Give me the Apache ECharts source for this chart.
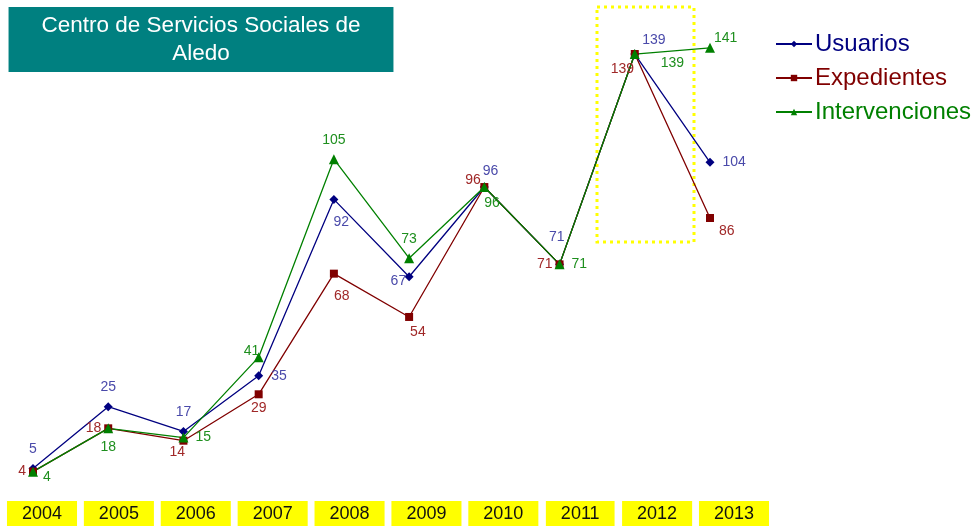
<!DOCTYPE html>
<html>
<head>
<meta charset="utf-8">
<script src="https://cdn.jsdelivr.net/npm/echarts@6/dist/echarts.min.js"></script>
<style>
  html, body { margin: 0; padding: 0; background: #fff; }
  #chart { width: 975px; height: 529px; }
</style>
</head>
<body>
<div id="chart"></div>
<script>
// datos
var years = ['2004', '2005', '2006', '2007', '2008', '2009', '2010', '2011', '2012', '2013'];
var usuarios = [5, 25, 17, 35, 92, 67, 96, 71, 139, 104];
var expedientes = [4, 18, 14, 29, 68, 54, 96, 71, 139, 86];
var intervenciones = [4, 18, 15, 41, 105, 73, 96, 71, 139, 141];

// posicion de cada etiqueta
var posUsuarios = ['top', 'top', 'top', 'right', [4, 20], [-14, 2], [3, -18], [-6, -30], [12, -16], 'right'];
var posExpedientes = ['left', 'left', [-10, 8], 'bottom', [4, 19], [5, 12], [-15, -10], 'left', [-20, 12], [13, 10]];
var posIntervenciones = [[15, 4], 'bottom', 'right', [-10, -8], 'top', 'top', [5, 14], 'right', [31, 7], [9, -12]];

function puntos(values, pos) {
    return values.map(function (v, i) {
        return {value: v, label: {position: pos[i]}};
    });
}

var chart = echarts.init(document.getElementById('chart'));
var font = 'Liberation Sans, Arial, sans-serif';

var option = {
    animation: false,
    title: {
        text: 'Centro de Servicios Sociales de\nAledo',
        left: 168,
        top: 7,
        textAlign: 'center',
        backgroundColor: '#008080',
        padding: [5, 33, 4, 33],
        textStyle: {
            color: '#fff',
            fontFamily: font,
            fontWeight: 'normal',
            fontSize: 22.5,
            lineHeight: 28
        }
    },
    legend: {
        orient: 'vertical',
        left: 770,
        top: 27,
        itemWidth: 36,
        itemHeight: 8,
        itemGap: 10,
        textStyle: {fontFamily: font, fontSize: 24, padding: [0, 0, 0, -2]},
        data: [
            {name: 'Usuarios', textStyle: {color: '#000080'}},
            {name: 'Expedientes', textStyle: {color: '#800000'}},
            {name: 'Intervenciones', textStyle: {color: '#008000'}}
        ]
    },
    grid: [
        {left: 33, right: 265, top: 20, bottom: 45},
        {left: 42, right: 241, top: 20, bottom: 45}
    ],
    xAxis: [
        {
            type: 'category',
            gridIndex: 0,
            data: years,
            boundaryGap: false,
            axisLine: {show: false},
            axisTick: {show: false},
            axisLabel: {show: false}
        },
        {
            type: 'category',
            gridIndex: 1,
            data: years,
            boundaryGap: false,
            axisLine: {show: false},
            axisTick: {show: false},
            axisLabel: {
                margin: 17,
                color: '#111',
                fontFamily: font,
                fontSize: 18,
                backgroundColor: '#ffff00',
                padding: [4, 15, 3, 15]
            }
        }
    ],
    yAxis: [
        {type: 'value', gridIndex: 0, min: 0, max: 150, show: false},
        {type: 'value', gridIndex: 1, min: 0, max: 150, show: false}
    ],
    graphic: [
        {
            type: 'rect',
            shape: {x: 597, y: 7, width: 97, height: 235},
            style: {fill: null, stroke: '#ffff00', lineWidth: 3, lineDash: [3, 4]},
            z: 0
        }
    ],
    series: [
        {
            name: 'Usuarios',
            type: 'line',
            data: puntos(usuarios, posUsuarios),
            symbol: 'diamond',
            symbolSize: 9,
            color: '#000080',
            lineStyle: {width: 1.3},
            label: {show: true, color: '#4a4aaa', fontFamily: font, fontSize: 14, distance: 8},
            z: 3
        },
        {
            name: 'Expedientes',
            type: 'line',
            data: puntos(expedientes, posExpedientes),
            symbol: 'rect',
            symbolSize: 8,
            color: '#800000',
            lineStyle: {width: 1.3},
            label: {show: true, color: '#a02828', fontFamily: font, fontSize: 14, distance: 3},
            z: 3
        },
        {
            name: 'Intervenciones',
            type: 'line',
            data: puntos(intervenciones, posIntervenciones),
            symbol: 'triangle',
            symbolSize: 10,
            color: '#008000',
            lineStyle: {width: 1.3},
            label: {show: true, color: '#1e8f1e', fontFamily: font, fontSize: 14, distance: 7},
            z: 3
        }
    ]
};
chart.setOption(option);
</script>
</body>
</html>
